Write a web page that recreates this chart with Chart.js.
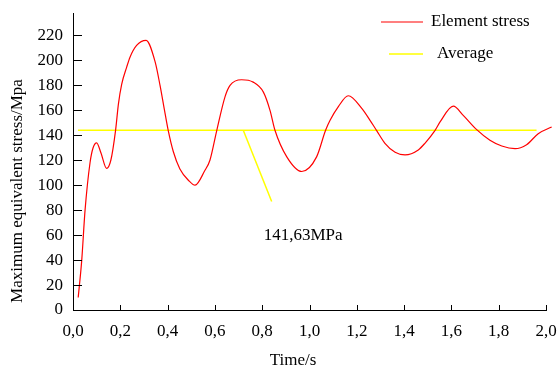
<!DOCTYPE html>
<html>
<head>
<meta charset="utf-8">
<title>Element stress</title>
<script src="https://cdn.jsdelivr.net/npm/chart.js@4.4.1/dist/chart.umd.min.js"></script>
<style>
    html, body { margin: 0; padding: 0; background: #fff; }
    #wrap { width: 557px; height: 372px; }
</style>
</head>
<body>
<div id="wrap"><canvas id="stressChart"></canvas></div>
<script>
// time (s) and element stress (MPa)
const stressTime = [0.022, 0.037, 0.051, 0.072, 0.085, 0.1, 0.118, 0.142, 0.16, 0.18, 0.192, 0.206, 0.227, 0.241, 0.269, 0.309, 0.347, 0.368, 0.386, 0.403, 0.424, 0.452, 0.488, 0.516, 0.558, 0.579, 0.608, 0.643, 0.664, 0.713, 0.762, 0.805, 0.833, 0.854, 0.904, 0.967, 1.03, 1.068, 1.087, 1.122, 1.164, 1.221, 1.256, 1.284, 1.319, 1.362, 1.404, 1.46, 1.488, 1.531, 1.552, 1.608, 1.65, 1.707, 1.763, 1.813, 1.869, 1.918, 1.967, 2.024];
const stressValues = [10, 40, 80, 118, 130, 134, 126, 113.5, 120, 144, 165, 181, 194.6, 202.6, 212, 216, 199, 180, 161, 143.5, 127, 113, 104, 100, 112, 120, 144, 171, 180, 184.5, 182.6, 174.6, 160, 144, 122.7, 111, 122.7, 144, 152, 163, 171.7, 161.6, 152, 143.7, 133.6, 126.4, 124.3, 128.3, 133.6, 144, 150.7, 163.4, 156, 144.5, 136, 131.4, 129.3, 132.5, 141.3, 146.6];

// average line as drawn
const averageTime = [0.021, 1.96];
const averageValues = [144, 144];

// annotation leader and label
const leaderTime = [0.72, 0.84];
const leaderValues = [144, 87];
const averageLabel = '141,63MPa';
const averageLabelAt = [0.973, 60];

const xTicks = [0, 0.2, 0.4, 0.6, 0.8, 1.0, 1.2, 1.4, 1.6, 1.8, 2.0];
const xTickLabels = ['0,0', '0,2', '0,4', '0,6', '0,8', '1,0', '1,2', '1,4', '1,6', '1,8', '2,0'];
const yTicks = [0, 20, 40, 60, 80, 100, 120, 140, 160, 180, 200, 220];

const serif = '"Liberation Serif", "Times New Roman", serif';

function toPoints(xs, ys) {
    return xs.map((x, i) => ({ x: x, y: ys[i] }));
}

const decorPlugin = {
    id: 'decor',
    afterDraw(chart) {
        const ctx = chart.ctx;
        const xs = chart.scales.x;
        const ys = chart.scales.y;
        ctx.save();

        // inward tick marks
        ctx.strokeStyle = '#000';
        ctx.lineWidth = 1;
        ctx.beginPath();
        yTicks.forEach(v => {
            const py = Math.round(ys.getPixelForValue(v)) + 0.5;
            ctx.moveTo(xs.left, py);
            ctx.lineTo(xs.left + 9, py);
        });
        xTicks.forEach(v => {
            if (v === 0) return;
            const px = Math.round(xs.getPixelForValue(v)) + 0.5;
            ctx.moveTo(px, ys.bottom);
            ctx.lineTo(px, ys.bottom - 5);
        });
        ctx.stroke();

        ctx.fillStyle = '#000';
        ctx.font = '17px ' + serif;
        ctx.textBaseline = 'middle';

        // annotation text
        ctx.textAlign = 'center';
        ctx.fillText(averageLabel, xs.getPixelForValue(averageLabelAt[0]), ys.getPixelForValue(averageLabelAt[1]));

        // axis titles
        ctx.fillText('Time/s', 293, 361);
        ctx.save();
        ctx.translate(18, 191);
        ctx.rotate(-Math.PI / 2);
        ctx.fillText('Maximum equivalent stress/Mpa', 0, 0);
        ctx.restore();

        // legend
        ctx.lineWidth = 1.2;
        ctx.strokeStyle = '#ff0000';
        ctx.beginPath();
        ctx.moveTo(381, 22);
        ctx.lineTo(423, 22);
        ctx.stroke();
        ctx.strokeStyle = '#ffff00';
        ctx.lineWidth = 1.5;
        ctx.beginPath();
        ctx.moveTo(389, 54);
        ctx.lineTo(423, 54);
        ctx.stroke();
        ctx.textAlign = 'left';
        ctx.fillText('Element stress', 431, 22);
        ctx.fillText('Average', 437, 54);

        ctx.restore();
    }
};

const ctx = document.getElementById('stressChart').getContext('2d');
new Chart(ctx, {
    type: 'line',
    data: {
        datasets: [{
            label: 'Element stress',
            data: toPoints(stressTime, stressValues),
            borderColor: '#ff0000',
            borderWidth: 1.2,
            pointRadius: 0,
            cubicInterpolationMode: 'monotone',
            clip: false
        }, {
            label: 'Average',
            data: toPoints(averageTime, averageValues),
            borderColor: '#ffff00',
            borderWidth: 1.5,
            pointRadius: 0
        }, {
            label: 'leader',
            data: toPoints(leaderTime, leaderValues),
            borderColor: '#ffff00',
            borderWidth: 1.5,
            pointRadius: 0
        }]
    },
    options: {
        responsive: true,
        maintainAspectRatio: false,
        animation: false,
        layout: { padding: { top: 13, right: 11, left: 0, bottom: 0 } },
        plugins: {
            legend: { display: false },
            tooltip: { enabled: false }
        },
        scales: {
            x: {
                type: 'linear',
                min: 0,
                max: 2.0,
                afterFit: (scale) => {
                    scale.height = 62;
                    scale.paddingLeft = 0;
                    scale.paddingRight = 0;
                },
                afterBuildTicks: (scale) => { scale.ticks = xTicks.map(v => ({ value: v })); },
                grid: { display: false, drawTicks: false },
                border: { display: true, color: '#000', width: 1 },
                ticks: {
                    autoSkip: false,
                    maxRotation: 0,
                    padding: 11,
                    color: '#000',
                    font: { family: serif, size: 17 },
                    callback: (v) => xTickLabels[xTicks.indexOf(v)]
                }
            },
            y: {
                min: 0,
                max: 238,
                afterFit: (scale) => {
                    scale.width = 73;
                    scale.paddingTop = 0;
                    scale.paddingBottom = 0;
                },
                afterBuildTicks: (scale) => { scale.ticks = yTicks.map(v => ({ value: v })); },
                grid: { display: false, drawTicks: false },
                border: { display: true, color: '#000', width: 1 },
                ticks: {
                    padding: 10,
                    color: '#000',
                    font: { family: serif, size: 17 }
                }
            }
        }
    },
    plugins: [decorPlugin]
});
</script>
</body>
</html>
